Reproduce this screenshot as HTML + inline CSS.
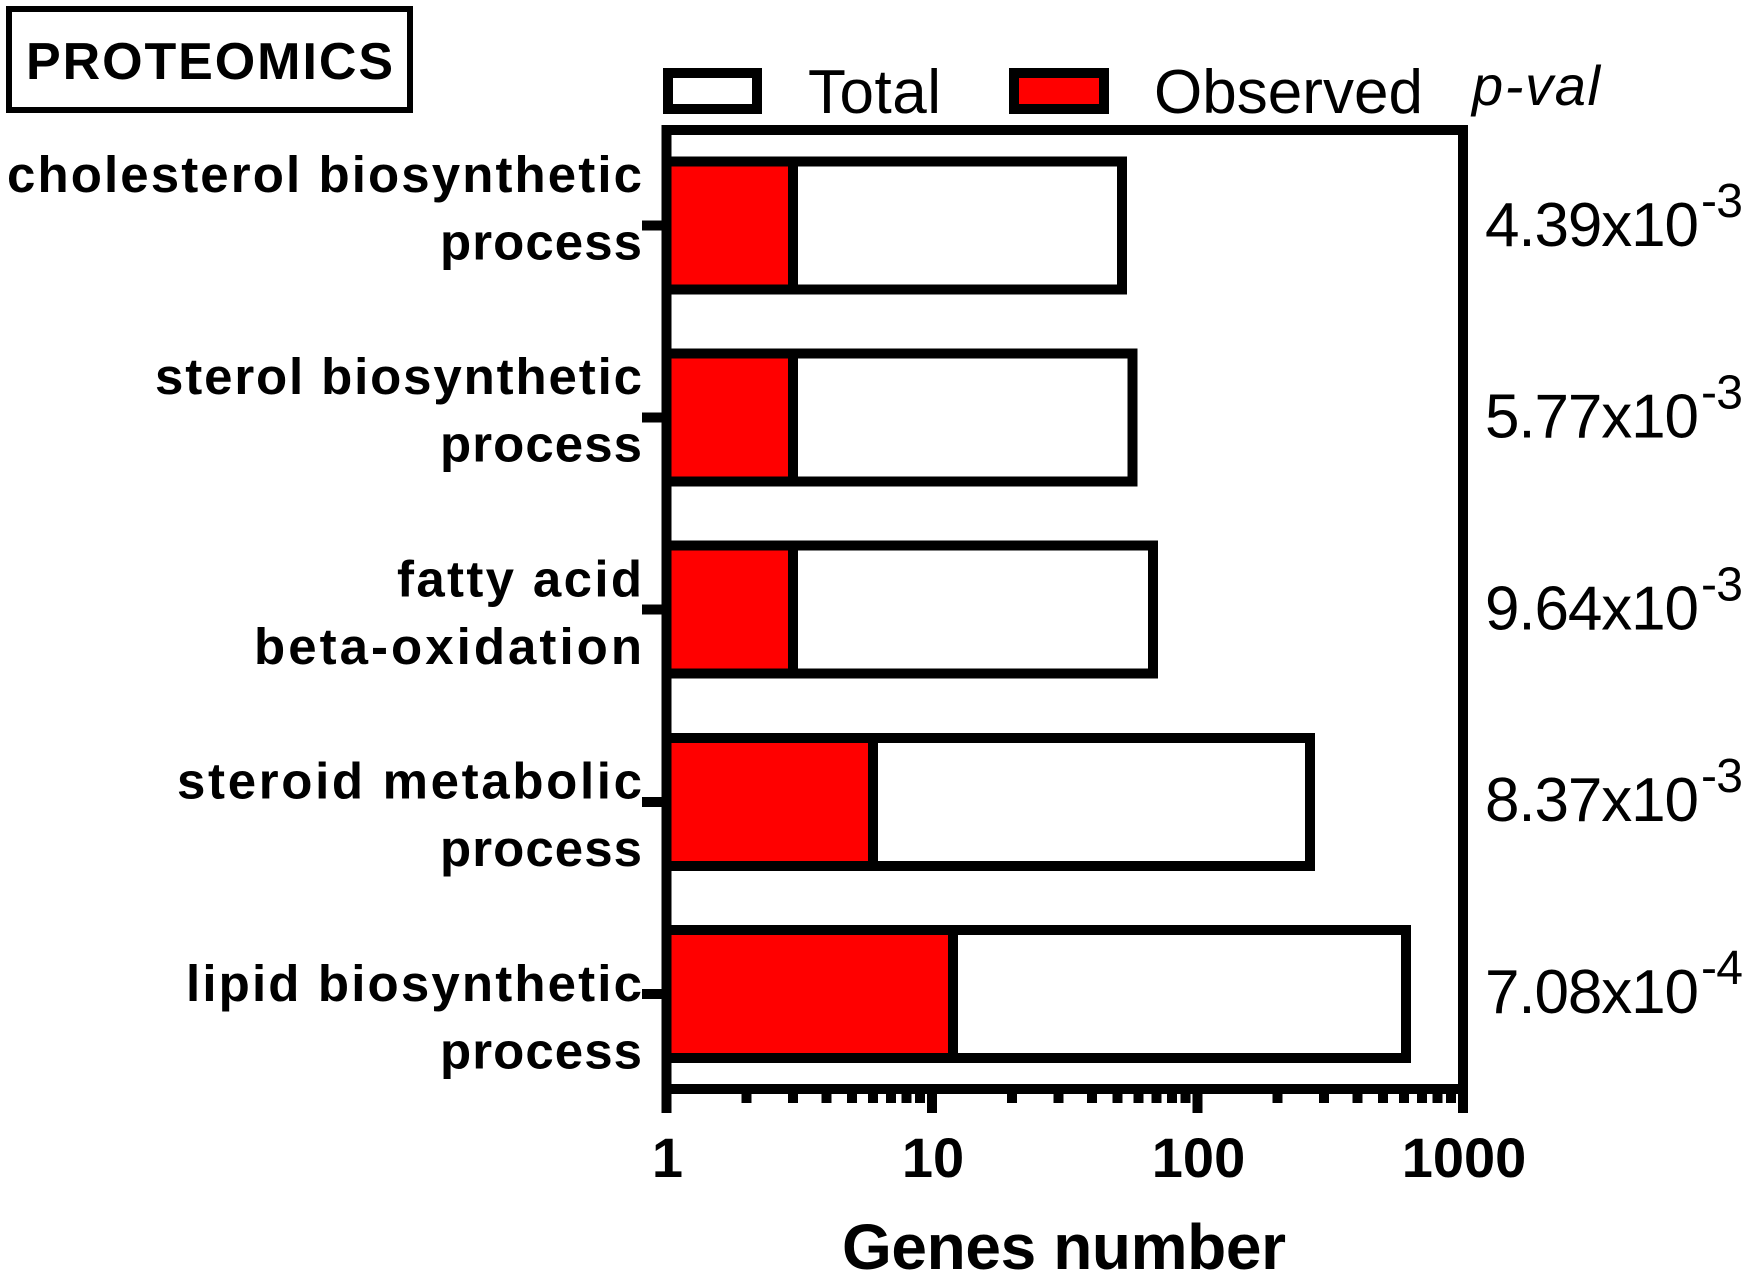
<!DOCTYPE html>
<html lang="en">
<head>
<meta charset="utf-8">
<title>Proteomics genes number chart</title>
<style>
  html, body { margin: 0; padding: 0; background: #fff; }
  body { width: 1758px; height: 1285px; overflow: hidden; }
  svg { display: block; }
  text { font-family: "Liberation Sans", Arial, sans-serif; fill: #000; }
  .cat { font-size: 51px; font-weight: bold; }
  .tick { font-size: 56px; font-weight: bold; }
  .pv { font-size: 62px; }
  .sup { font-size: 48px; }
  .leg { font-size: 62px; }
</style>
</head>
<body>
<svg id="chart" xmlns="http://www.w3.org/2000/svg" width="1758" height="1285" viewBox="0 0 1758 1285">
  <rect x="0" y="0" width="1758" height="1285" fill="#fff"/>
  <rect x="9" y="9" width="401" height="101" fill="#fff" stroke="#000" stroke-width="6" shape-rendering="crispEdges"/>
  <text x="26" y="79" font-size="52" font-weight="bold" textLength="367">PROTEOMICS</text>

  <rect x="668" y="73" width="89" height="36" fill="#fff" stroke="#000" stroke-width="10" shape-rendering="crispEdges"/>
  <text class="leg" x="808" y="113" textLength="133">Total</text>
  <rect x="1014" y="73" width="90" height="36" fill="#ff0000" stroke="#000" stroke-width="10" shape-rendering="crispEdges"/>
  <text class="leg" x="1154" y="113" textLength="269">Observed</text>
  <text x="1472" y="105" font-size="56" font-style="italic" textLength="128">p-val</text>

  <text x="842" y="1269" font-size="64" font-weight="bold" textLength="444">Genes number</text>
  <g id="plot"></g>
</svg>
<script>
const categoryLines = [
  ["cholesterol biosynthetic", "process"],
  ["sterol biosynthetic", "process"],
  ["fatty acid", "beta-oxidation"],
  ["steroid metabolic", "process"],
  ["lipid biosynthetic", "process"]
];
const totalGenes = [52, 57, 68, 265, 610];
const observedGenes = [3, 3, 3, 6, 12];
const pValueMantissas = ["4.39x10", "5.77x10", "9.64x10", "8.37x10", "7.08x10"];
const pValueExponents = ["-3", "-3", "-3", "-3", "-4"];
const xTickValues = [1, 10, 100, 1000];
const xTickLabels = ["1", "10", "100", "1000"];
const xMinorMultipliers = [2, 3, 4, 5, 6, 7, 8, 9];

const NS = "http://www.w3.org/2000/svg";
const plot = document.getElementById("plot");
const x0 = 666.5, decade = 265.5;
const band0 = 225.5, bandStep = 192.1, barH = 128, stroke = 10;
const frameTop = 130, frameBottom = 1089;
const labelRight = 642;
const lineFit = {
  "cholesterol biosynthetic": 635, "sterol biosynthetic": 487, "fatty acid": 245,
  "beta-oxidation": 388, "steroid metabolic": 465, "lipid biosynthetic": 456, "process": 202
};
function xScale(v) { return x0 + decade * Math.log10(v); }
function yBand(i) { return band0 + bandStep * i; }
function make(tag, attrs, txt) {
  const el = document.createElementNS(NS, tag);
  for (const k in attrs) el.setAttribute(k, attrs[k]);
  if (txt !== undefined) el.textContent = txt;
  plot.appendChild(el);
  return el;
}
const crisp = { "shape-rendering": "crispEdges" };

categoryLines.forEach((lines, i) => {
  const cy = yBand(i);
  const total = make("rect", Object.assign({
    x: x0, y: cy - barH / 2, width: xScale(totalGenes[i]) - x0, height: barH,
    fill: "#fff", stroke: "#000", "stroke-width": stroke }, crisp));
  
  
  const obs = make("rect", Object.assign({
    x: x0, y: cy - barH / 2, width: xScale(observedGenes[i]) - x0, height: barH,
    fill: "#ff0000", stroke: "#000", "stroke-width": stroke }, crisp));
  
  
});

const frame = make("rect", Object.assign({
  x: x0, y: frameTop, width: xScale(1000) - x0, height: frameBottom - frameTop,
  fill: "none", stroke: "#000", "stroke-width": stroke }, crisp));



categoryLines.forEach((lines, i) => {
  const cy = yBand(i);
  const tick = make("rect", Object.assign({ x: 642, y: cy - 5, width: 22, height: 10, fill: "#000" }, crisp));
  
  
  lines.forEach((line, j) => {
    const baseY = 192 + 202.2 * i + 67.5 * j;
    const w = lineFit[line];
    const t = make("text", { class: "cat", x: labelRight - w, y: baseY, textLength: w }, line);
    
    
  });
  const pv = make("text", { class: "pv", x: 1485, y: 246 + 191.7 * i, textLength: 214 }, pValueMantissas[i]);
  
  
  const sup = make("text", { class: "sup", x: 1701, y: 217 + 191.7 * i, textLength: 42 }, pValueExponents[i]);
  
  
});

xTickValues.forEach((v, i) => {
  const major = make("rect", Object.assign({ x: xScale(v) - 5, y: frameBottom, width: 10, height: 24, fill: "#000" }, crisp));
  
  
  const lab = make("text", { class: "tick", x: xScale(v) + 1, y: 1177, "text-anchor": "middle" }, xTickLabels[i]);
  
  
  if (i < xTickValues.length - 1) {
    xMinorMultipliers.forEach(m => {
      const minor = make("rect", Object.assign({ x: xScale(v * m) - 5, y: frameBottom, width: 10, height: 14, fill: "#000" }, crisp));
      
      
    });
  }
});
</script>
</body>
</html>
